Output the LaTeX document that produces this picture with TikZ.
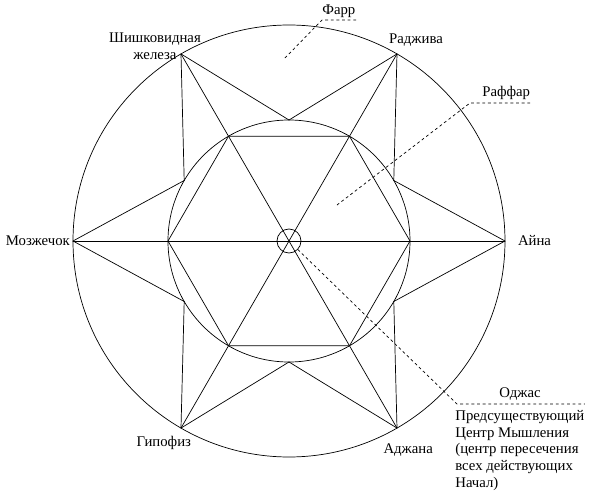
\documentclass[tikz,border=0pt]{standalone}
\usepackage{fontspec}
\setmainfont{Liberation Serif}
\usetikzlibrary{positioning}

\begin{document}
\begin{tikzpicture}[line join=round,line cap=round,font=\fontsize{10.5}{12}\selectfont,
		lbl/.style={inner sep=0pt},
		lead/.style={dash pattern=on 2pt off 2pt,line cap=butt},
		line width=.5pt]
	\useasboundingbox (-7.225,-6.525) rectangle (7.775,6.025);
	\draw (0,0) circle (5.4);
	\draw (0,0) circle (3.025);
	\foreach \a in {0,30,...,330} \coordinate (I\a) at (\a:3.025);
	\foreach \a in {0,60,...,300} \coordinate (P\a) at (\a:5.4);
	\draw (I0)--(I60)--(I120)--(I180)--(I240)--(I300)--cycle;
	\foreach \a in {0,60,120} {
		\pgfmathtruncatemacro\aOpp{\a+180}
		\draw (P\a)--(P\aOpp);
	}
	\foreach \a in {0,60,...,300} {
		\pgfmathtruncatemacro\aL{mod(\a+330,360)}
		\pgfmathtruncatemacro\aR{mod(\a+30,360)}
		\draw (I\aL)--(P\a)--(I\aR);
	}
	\node[draw,circle,minimum size=0.6cm,inner sep=0pt] (O) at (0,0) {};
	\node[lbl,left=2pt] (cereb) at (P180) {Мозжечок};
	\node[lbl,right=9pt] (ajna) at (P0) {Айна};
	\node[lbl] (rajiva) at ([shift={(0.475,0.35)}]P60) {Раджива};
	\node[lbl,align=center] (pineal) at ([shift={(-0.65,0.2)}]P120) {Шишковидная\\железа};
	\node[lbl] (hypo) at ([shift={(-0.43,-0.38)}]P240) {Гипофиз};
	\node[lbl] (ajana) at ([shift={(0.28,-0.55)}]P300) {Аджана};
	\coordinate (farrA) at (-0.1,4.575);
	\coordinate (farrB) at (0.825,5.525);
	\coordinate (farrC) at (1.7,5.525);
	\draw[lead] (farrA)--(farrB)--(farrC);
	\node[lbl,anchor=south west,yshift=1.5pt] (farr) at (farrB) {Фарр};
	\coordinate (raffA) at (1.2,0.9);
	\coordinate (raffB) at (4.525,3.45);
	\coordinate (raffC) at (6.075,3.45);
	\draw[lead] (raffA)--(raffB)--(raffC);
	\node[lbl,anchor=south west,xshift=0.3cm,yshift=2pt] (raffar) at (raffB) {Раффар};
	\coordinate (odjA) at (4.2,-4.075);
	\coordinate (odjB) at (7.4,-4.075);
	\draw[lead] (O)--(odjA)--(odjB);
	\node[lbl,anchor=south,yshift=2pt] (odjas) at (5.775,-4.075) {Оджас};
	\node[lbl,anchor=north west,align=left] (mind) at (4.15,-4.22) {Предсуществующий\\Центр Мышления\\(центр пересечения\\всех действующих\\Начал)};
\end{tikzpicture}
\end{document}
